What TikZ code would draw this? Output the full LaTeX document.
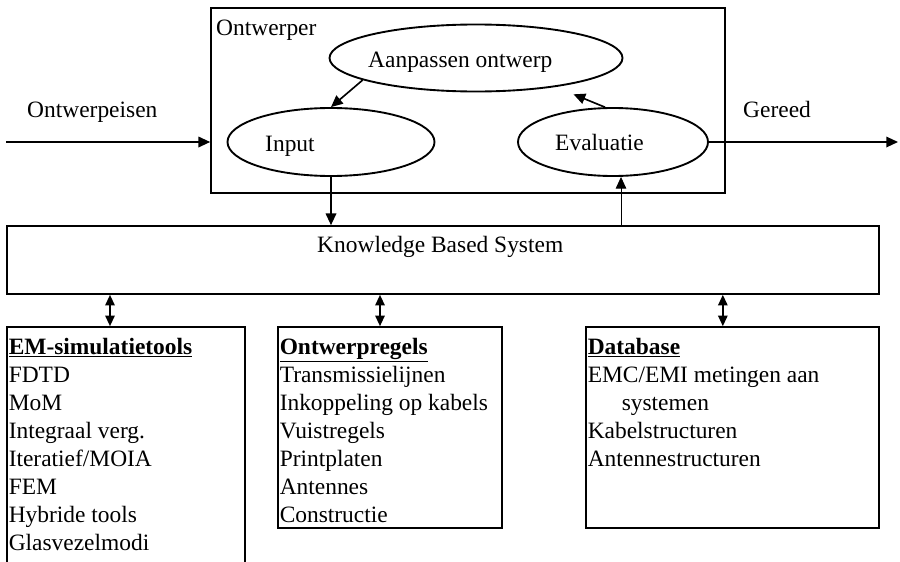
\documentclass[tikz,border=0pt]{standalone}
\usepackage{fontspec}
\setmainfont{Liberation Serif}
\usetikzlibrary{arrows.meta,shapes.geometric,positioning}

\tikzset{
  blok/.style={draw, line width=1.4pt, rectangle, inner sep=0pt},
  ovaal/.style={draw, line width=1.6pt, ellipse, inner sep=0pt},
  tekst/.style={anchor=base west, inner sep=0pt},
  lijst/.style={anchor=north west, align=left, inner xsep=2pt, inner ysep=0pt},
  pijl/.style={-{Triangle[length=10pt,width=9pt]}, line width=1.4pt},
  dun/.style={-{Triangle[length=10pt,width=9pt]}, line width=0.8pt},
  dubbel/.style={{Triangle[length=9pt,width=8pt]}-{Triangle[length=9pt,width=8pt]}, line width=1.4pt}
}

\begin{document}
\begin{tikzpicture}[x=0.03cm, y=-0.03cm, font=\fontsize{20}{23.9}\selectfont]
  \useasboundingbox (0,0) rectangle (900,561);
  \clip (0,0) rectangle (900,561);

  % ontwerper en de cyclus
  \node[blok, minimum width=15.42cm, minimum height=5.55cm] (ontwerper) at (468,100.5) {};
  \node[tekst] (ontwlabel) at (216,35) {Ontwerper};
  \node[ovaal, minimum width=8.79cm, minimum height=2.01cm] (aanpassen) at (476,58) {};
  \node[tekst] (aanpassentekst) at (368,67) {Aanpassen ontwerp};
  \node[ovaal, minimum width=6.21cm, minimum height=2.04cm] (input) at (331,142) {};
  \node[tekst] (inputtekst) at (265,151) {Input};
  \node[ovaal, minimum width=5.7cm, minimum height=2.04cm] (evaluatie) at (613,142) {};
  \node[tekst] (evaluatietekst) at (555,150) {Evaluatie};

  \coordinate (in) at (6,142);
  \coordinate (uit) at (898,142);
  \node[tekst] (eisen) at (27,117) {Ontwerpeisen};
  \node[tekst] (gereed) at (743,117) {Gereed};
  \draw[pijl] (in) -- (in -| ontwerper.west);
  \draw[pijl] (evaluatie.east) -- (uit);
  \draw[pijl] (aanpassen.191) -- (input.north);
  \draw[pijl, shorten >=0.58cm] (evaluatie.103) -- (aanpassen.-20);

  % knowledge based system
  \node[blok, minimum width=26.16cm, minimum height=2.04cm] (kbs) at (443,260) {};
  \node[tekst] (kbstekst) at (317,252) {Knowledge Based System};
  \draw[pijl] (input.south) -- (input.south |- kbs.north);
  \coordinate (evalvoet) at ([xshift=0.24cm]evaluatie.south);
  \draw[dun] (evalvoet |- kbs.north) -- (evalvoet);

  % kennisbronnen
  \node[blok, minimum width=7.14cm, minimum height=8.19cm] (em) at (126,463.5) {};
  \node[blok, minimum width=6.72cm, minimum height=6.03cm] (regels) at (390,427.5) {};
  \node[blok, minimum width=8.79cm, minimum height=6.03cm] (data) at (732.5,427.5) {};
  \foreach \doos/\dx in {em/-0.48cm, regels/-0.3cm, data/-0.29cm}
    \draw[dubbel] ([xshift=\dx]\doos.north |- kbs.south) -- ([xshift=\dx]\doos.north);

  \node[lijst] (emlijst) at ([yshift=-0.36cm]em.north west) {\underline{\textbf{EM-simulatietools}}\\
    FDTD\\ MoM\\ Integraal verg.\\ Iteratief/MOIA\\ FEM\\ Hybride tools\\ Glasvezelmodi};
  \node[lijst] (regelslijst) at ([yshift=-0.36cm]regels.north west) {\underline{\textbf{Ontwerpregels}}\\
    Transmissielijnen\\ Inkoppeling op kabels\\ Vuistregels\\ Printplaten\\ Antennes\\ Constructie};
  \node[lijst] (datalijst) at ([yshift=-0.36cm]data.north west) {\underline{\textbf{Database}}\\
    EMC/EMI metingen aan\\ \hspace*{1.02cm}systemen\\ Kabelstructuren\\ Antennestructuren};
\end{tikzpicture}
\end{document}
